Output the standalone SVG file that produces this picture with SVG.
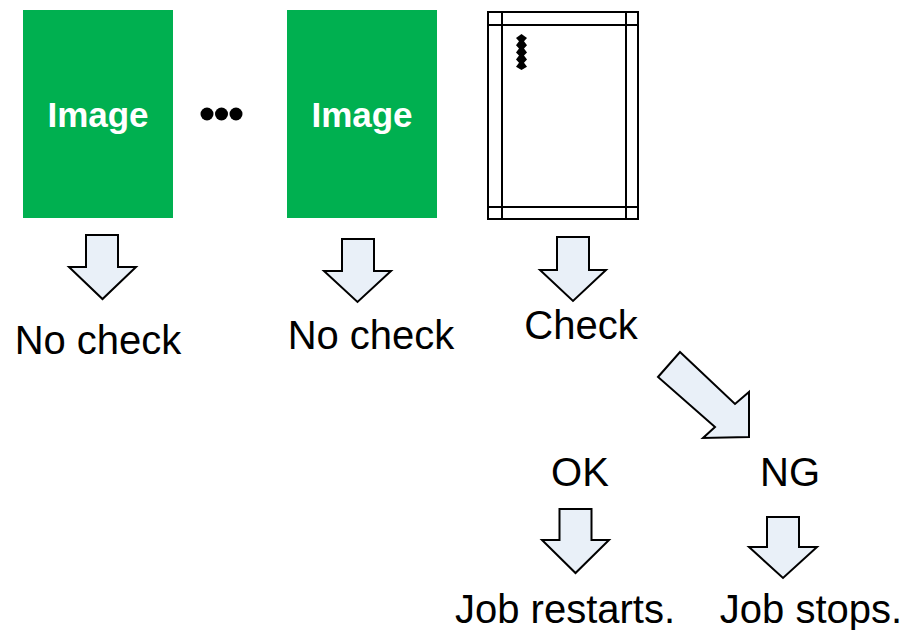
<svg xmlns="http://www.w3.org/2000/svg" width="906" height="630" viewBox="0 0 906 630">
<style>
.img{fill:#00B050}
.imgt{font-family:"Liberation Sans",Arial,sans-serif;font-weight:bold;font-size:35px;fill:#fff;text-anchor:middle}
.lbl{font-family:"Liberation Sans",Arial,sans-serif;font-size:40px;fill:#000;text-anchor:middle}
.arr{fill:#E9F0F8;stroke:#000;stroke-width:2;stroke-linejoin:miter}
.frame{fill:#fff;stroke:#000;stroke-width:2}
.ln{stroke:#000;stroke-width:2;fill:none}
</style>
<rect width="906" height="630" fill="#fff"/>
<g id="image1">
<rect class="img" x="23" y="10" width="150" height="208"/>
<text class="imgt" x="98" y="127">Image</text>
</g>
<g id="ellipsis">
<circle cx="207" cy="114" r="6.5"/>
<circle cx="221.5" cy="114" r="6.5"/>
<circle cx="236" cy="114" r="6.5"/>
</g>
<g id="image2">
<rect class="img" x="287" y="10" width="150" height="208"/>
<text class="imgt" x="362" y="127">Image</text>
</g>
<g id="checkpage">
<rect class="frame" x="488" y="12" width="150" height="207"/>
<line class="ln" x1="502" y1="12" x2="502" y2="219"/>
<line class="ln" x1="626" y1="12" x2="626" y2="219"/>
<line class="ln" x1="488" y1="25" x2="638" y2="25"/>
<line class="ln" x1="488" y1="207" x2="638" y2="207"/>
<path d="M521.5 34 L527 38 L524 41.2 L527 45.2 L524 48.4 L527 52.4 L524 55.6 L527 59.6 L524 62.8 L527 66.8 L521.5 70 L516 66.8 L519 62.8 L516 59.6 L519 55.6 L516 52.4 L519 48.4 L516 45.2 L519 41.2 L516 38 Z" fill="#000"/>
</g>
<g id="connectors">
<polygon class="arr" points="86,235 118,235 118,267 136,267 102.5,299 69,267 86,267"/>
<polygon class="arr" points="342,239 374,239 374,271 391,271 357.5,302 324,271 342,271"/>
<polygon class="arr" points="557,237 589,237 589,270 606,270 573,301 540,270 557,270"/>
<polygon class="arr" points="680,352 735,404 749,392 749,437 703,438 715,427 658,377"/>
<polygon class="arr" points="559.5,509 591.5,509 591.5,540 609,540 575.5,573 542,540 559.5,540"/>
<polygon class="arr" points="767,517 799,517 799,547 817,547 783,578 749,547 767,547"/>
</g>
<g id="nocheck1"><text class="lbl" x="98" y="354">No check</text></g>
<g id="nocheck2"><text class="lbl" x="371" y="349">No check</text></g>
<g id="check"><text class="lbl" x="581" y="339">Check</text></g>
<g id="ok"><text class="lbl" x="580" y="486">OK</text></g>
<g id="ng"><text class="lbl" x="790" y="486">NG</text></g>
<g id="restarts"><text class="lbl" x="565" y="623">Job restarts.</text></g>
<g id="stops"><text class="lbl" x="811" y="623">Job stops.</text></g>
</svg>
